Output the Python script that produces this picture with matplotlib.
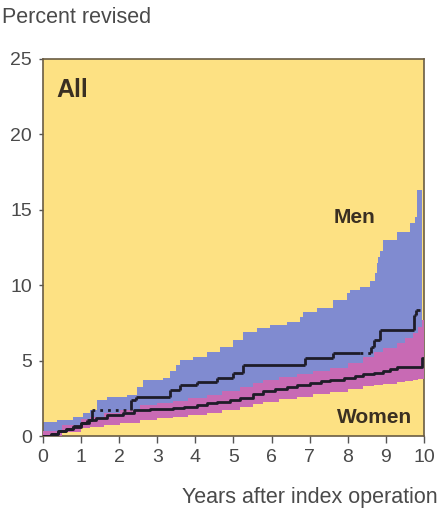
import matplotlib
matplotlib.use("Agg")
import matplotlib.pyplot as plt

plt.rcParams['font.family'] = ['Liberation Sans', 'DejaVu Sans']

# ---- data ----
# Men: cumulative percent revised (step, post); dotted flag for the segment starting at each point
men_t = [0, 0.2, 0.4, 0.6, 0.8, 1.0, 1.15, 1.28, 2.3, 2.45, 3.33, 3.6, 4.03, 4.56, 5.0, 5.26, 6.88, 7.62, 8.32, 8.62, 8.7, 8.85, 9.74, 9.8, 9.9]
men_v = [0, 0.15, 0.3, 0.47, 0.65, 0.87, 1.07, 1.72, 2.39, 2.6, 3.05, 3.38, 3.6, 3.85, 4.16, 4.7, 5.2, 5.48, 5.48, 5.92, 6.37, 7.03, 8.0, 8.36, 8.36]
men_dotted = [0, 0, 0, 0, 0, 0, 0, 1, 0, 0, 0, 0, 0, 0, 0, 0, 0, 0, 1, 0, 0, 0, 0, 0, 0]

# Men 95% CI (upper edge visible; lower edge lies under the women's band)
men_ci_t = [0, 0.36, 0.8, 1.06, 1.23, 1.41, 1.67, 2.2, 2.46, 2.63, 3.16, 3.33, 3.5, 3.6, 3.95, 4.3, 4.65, 5.0, 5.26, 5.61, 5.96, 6.4, 6.75, 6.83, 7.18, 7.62, 7.97, 8.06, 8.32, 8.58, 8.71, 8.76, 8.8, 8.85, 8.93, 9.28, 9.63, 9.76, 9.81, 9.94]
men_hi = [0.95, 1.06, 1.28, 1.5, 1.72, 2.39, 2.6, 2.7, 3.27, 3.71, 3.83, 4.3, 4.7, 5.04, 5.26, 5.59, 5.92, 6.37, 6.92, 7.14, 7.36, 7.58, 7.9, 8.2, 8.47, 9.02, 9.46, 9.68, 9.9, 10.3, 10.79, 11.45, 11.9, 12.3, 13.0, 13.55, 14.1, 14.54, 16.3, 16.3]
men_lo = [0, 0.29, 0.62, 0.85, 1.05, 1.2, 1.39, 1.5, 1.72, 1.72, 1.8, 1.8, 1.85, 1.9, 1.95, 2.17, 2.28, 2.4, 2.55, 2.8, 3.0, 3.15, 3.3, 3.4, 3.5, 3.7, 3.88, 3.9, 4.0, 4.1, 4.2, 4.2, 4.2, 4.2, 4.3, 4.6, 4.6, 4.6, 4.6, 4.6]

# Women: cumulative percent revised
wom_t = [0, 0.2, 0.4, 0.6, 0.8, 1.0, 1.2, 1.4, 1.67, 2.1, 2.4, 2.8, 3.4, 3.7, 4.03, 4.3, 4.56, 4.9, 5.17, 5.5, 5.78, 6.1, 6.4, 6.66, 7.0, 7.3, 7.53, 7.9, 8.2, 8.41, 8.7, 8.93, 9.1, 9.28, 9.95, 10.0]
wom_v = [0, 0.15, 0.3, 0.45, 0.62, 0.85, 1.05, 1.2, 1.39, 1.5, 1.72, 1.78, 1.83, 1.95, 2.06, 2.17, 2.28, 2.4, 2.55, 2.8, 3.0, 3.15, 3.28, 3.4, 3.52, 3.62, 3.72, 3.88, 4.0, 4.08, 4.2, 4.32, 4.45, 4.6, 5.15, 5.15]

# Women 95% CI
wom_ci_t = [0, 0.5, 1.0, 1.23, 1.6, 2.02, 2.55, 3.0, 3.42, 3.8, 4.3, 4.7, 5.17, 5.5, 5.78, 6.2, 6.66, 7.1, 7.53, 8.0, 8.41, 8.7, 8.93, 9.28, 9.5, 9.7, 9.85, 9.95, 10.0]
wom_hi = [0.3, 0.7, 1.1, 1.28, 1.5, 1.72, 2.06, 2.2, 2.3, 2.5, 2.72, 3.0, 3.27, 3.5, 3.71, 3.9, 4.1, 4.3, 4.5, 4.85, 5.26, 5.55, 5.81, 6.15, 6.5, 6.81, 7.25, 7.7, 7.7]
wom_lo = [0, 0.25, 0.5, 0.62, 0.75, 0.85, 1.06, 1.17, 1.28, 1.4, 1.5, 1.75, 1.9, 2.1, 2.28, 2.45, 2.6, 2.78, 2.94, 3.12, 3.3, 3.38, 3.45, 3.6, 3.65, 3.72, 3.76, 3.8, 3.8]

x_ticks = [0, 1, 2, 3, 4, 5, 6, 7, 8, 9, 10]
y_ticks = [0, 5, 10, 15, 20, 25]

# ---- style ----
YELLOW = '#FDE183'
BLUE = '#808BD0'
PINK = '#C86AB4'
LINE = '#1E1C28'
TXT = '#4a4a4a'
DARK = '#3a2f22'

fig = plt.figure(figsize=(4.4, 5.12), dpi=100)
ax = fig.add_axes([0.0977, 0.1484, 0.8659, 0.7364])
ax.set_facecolor(YELLOW)

ax.fill_between(men_ci_t, men_lo, men_hi, step='post', color=BLUE, lw=0, zorder=2)
ax.fill_between(wom_ci_t, wom_lo, wom_hi, step='post', color=PINK, lw=0, zorder=3)

# women line
ax.step(wom_t, wom_v, where='post', color=LINE, lw=2.0, zorder=5)

# men line, segment by segment (dotted where censored)
for i in range(len(men_t) - 1):
    ls = (0, (1, 1.8)) if men_dotted[i] else '-'
    ax.plot([men_t[i], men_t[i + 1]], [men_v[i], men_v[i]], color=LINE, lw=2.0,
            ls=ls, zorder=5, solid_capstyle='butt')
    ax.plot([men_t[i + 1], men_t[i + 1]], [men_v[i], men_v[i + 1]], color=LINE,
            lw=2.0, zorder=5, solid_capstyle='butt')

ax.set_xlim(0, 10)
ax.set_ylim(0, 25)
ax.set_xticks(x_ticks)
ax.set_yticks(y_ticks)
ax.tick_params(axis='x', direction='out', length=5, width=1, color='#555', labelsize=14, labelcolor=TXT, pad=4)
ax.tick_params(axis='y', direction='out', length=3, width=1, color='#555', labelsize=14, labelcolor=TXT, pad=5)
for s in ax.spines.values():
    s.set_color('#6a5c44')
    s.set_linewidth(1.2)

ax.text(0.035, 0.95, 'All', transform=ax.transAxes, fontsize=18, fontweight='bold', color=DARK, va='top', ha='left')
ax.text(8.18, 14.5, 'Men', fontsize=15, fontweight='bold', color=DARK, va='center', ha='center')
ax.text(8.7, 1.2, 'Women', fontsize=15, fontweight='bold', color=DARK, va='center', ha='center')

fig.text(0.005, 0.966, 'Percent revised', fontsize=15.5, color=TXT, va='center', ha='left')
fig.text(0.995, 0.028, 'Years after index operation', fontsize=15.5, color=TXT, va='center', ha='right')

fig.savefig('out.png', dpi=100, facecolor='white')
